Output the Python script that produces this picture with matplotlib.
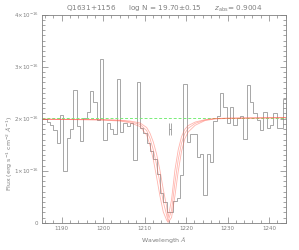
import numpy as np
import matplotlib
matplotlib.use("Agg")
import matplotlib.pyplot as plt
from matplotlib.ticker import MultipleLocator, FixedLocator, FixedFormatter

# observed spectrum, uniform bins (Angstrom), flux in 1e-16 erg/s/cm2/A
wl_start = 1184.75
wl_step = 0.8044
flux = [1.99,
        1.99, 1.94, 1.88, 1.78, 1.54, 2.08, 0.99, 1.62, 1.80, 2.55,
        1.85, 1.58, 2.01, 2.12, 2.53, 2.32, 1.98, 3.15, 1.59, 1.91,
        1.80, 1.71, 2.76, 1.74, 1.91, 1.86, 1.92, 1.21, 2.71, 1.82,
        1.73, 1.53, 1.37, 1.23, 0.94, 0.57, 0.40, 0.21, 0.21, 0.42,
        0.47, 0.92, 2.67, 1.56, 1.71, 1.71, 1.27, 1.33, 0.53, 1.33,
        1.17, 1.95, 2.05, 2.49, 2.22, 1.91, 2.23, 1.87, 2.02, 2.05,
        1.61, 2.64, 2.32, 2.10, 1.98, 1.78, 2.13, 1.82, 1.88, 2.11,
        1.82, 1.83, 2.37]

# DLA model curves (log N = 19.55, 19.70, 19.85)
model_wl = [1185.2, 1199.2, 1204.1, 1206.5, 1208.9, 1210.5, 1211.3, 1212.1,
            1212.9, 1213.7, 1214.5, 1215.3, 1215.67, 1216.5, 1217.3, 1218.1,
            1218.9, 1219.7, 1220.5, 1222.2, 1224.6, 1227.0, 1230.1, 1244.1]
model_lo = [1.99, 1.985, 1.972, 1.955, 1.919, 1.83, 1.72, 1.551,
            1.316, 1.007, 0.639, 0.319, 0.10, 0.446, 1.008, 1.40,
            1.654, 1.797, 1.867, 1.936, 1.982, 2.005, 2.01, 2.02]
model_mid = [1.99, 1.98, 1.965, 1.94, 1.89, 1.77, 1.62, 1.40,
             1.11, 0.76, 0.40, 0.15, 0.03, 0.24, 0.76, 1.21,
             1.53, 1.72, 1.815, 1.91, 1.975, 2.0, 2.01, 2.02]
model_hi = [1.99, 1.975, 1.955, 1.92, 1.85, 1.686, 1.488, 1.211,
            0.872, 0.511, 0.206, 0.052, 0.005, 0.10, 0.51, 0.983,
            1.37, 1.616, 1.744, 1.874, 1.965, 1.995, 2.005, 2.02]

continuum = 2.015
err_wl, err_flux, err_half = 1216.1, 1.81, 0.3

scale = 1e-16
gray = "#808080"

fig = plt.figure(figsize=(2.99, 2.50), dpi=100)
ax = fig.add_axes([42 / 299, 1 - 222.7 / 250, 244 / 299, 208 / 250])

edges = wl_start + wl_step * np.arange(len(flux) + 1)
ax.stairs(np.array(flux) * scale, edges, baseline=None, color="#999999", lw=0.6)

ax.axhline(continuum * scale, color="#77ee77", lw=0.7, ls=(0, (3, 2)))

for m in (model_lo, model_mid, model_hi):
    ax.plot(model_wl, np.array(m) * scale, color="#ff5a4a", lw=0.6, alpha=0.45)

ax.errorbar([err_wl], [err_flux * scale], xerr=[err_half], color="#999999",
            lw=0.6, capsize=4, capthick=0.6)

ax.set_xlim(1185.25, 1244.1)
ax.set_ylim(0, 4e-16)

ax.xaxis.set_major_locator(MultipleLocator(10))
ax.xaxis.set_minor_locator(MultipleLocator(2))
yt = [0, 1e-16, 2e-16, 3e-16, 4e-16]
ax.yaxis.set_major_locator(FixedLocator(yt))
ax.yaxis.set_major_formatter(FixedFormatter(
    ["0"] + [r"%d$\times$10$^{-16}$" % i for i in range(1, 5)]))
ax.yaxis.set_minor_locator(MultipleLocator(0.1e-16))

ax.tick_params(which="both", direction="in", top=True, right=True,
               colors=gray, labelsize=4, width=0.5, pad=2.5)
ax.tick_params(which="major", length=4)
ax.tick_params(which="minor", length=2)
for s in ax.spines.values():
    s.set_color(gray)
    s.set_linewidth(0.6)

ax.set_title(r"Q1631+1156      log N = 19.70$\pm$0.15      $z_{\rm abs}$= 0.9004",
             fontsize=5.2, color=gray, pad=3)
ax.set_xlabel(r"Wavelength $\AA$", fontsize=4.5, color=gray, labelpad=3)
fig.text(10 / 299, 1 - 153 / 250,
         r"Flux (erg s$^{-1}$ cm$^{-2}$ $\AA^{-1}$)",
         rotation=90, ha="center", va="center", fontsize=4.5, color=gray)

fig.savefig("out.png", dpi=100)
